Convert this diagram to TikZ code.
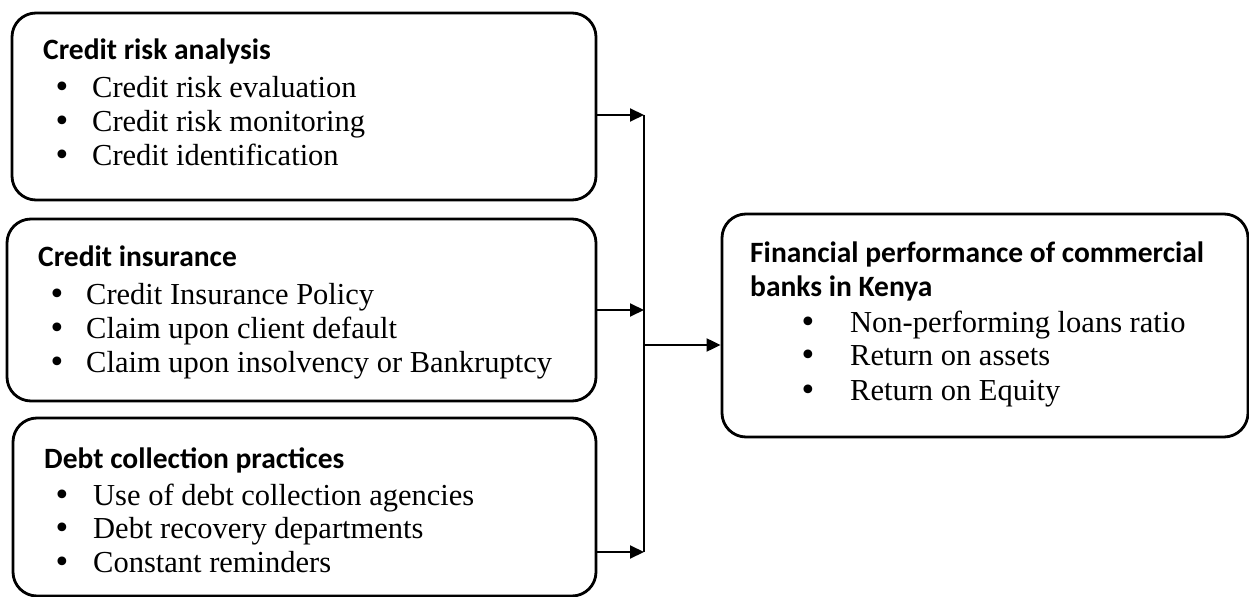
\documentclass[tikz,border=0pt]{standalone}
\usepackage{fontspec}
\setmainfont{Liberation Serif}
\newfontfamily\headfont{Carlito}
\newfontfamily\markfont{DejaVu Sans}
\usetikzlibrary{arrows.meta}

\tikzset{
  box/.style={draw, line width=2.8bp, rounded corners=24bp, inner sep=0pt},
  heading/.style={anchor=base west, inner sep=0pt,
    font=\headfont\bfseries\fontsize{29.5bp}{34bp}\selectfont},
  itemtext/.style={anchor=base west, inner sep=0pt,
    font=\fontsize{30.5bp}{34bp}\selectfont},
  bulletmark/.style={anchor=base, inner sep=0pt,
    font=\markfont\fontsize{30bp}{34bp}\selectfont},
  link/.style={line width=2bp, -{Triangle[length=14bp,width=13bp]}},
  trunk/.style={line width=2bp}
}

\begin{document}
\begin{tikzpicture}[x=1bp,y=-1bp]
\useasboundingbox (0,0) rectangle (1249,597);

% the three determinant boxes and the outcome box
\node[box, minimum width=584bp, minimum height=187bp] (b1) at (304,106.5) {};
\node[box, minimum width=589bp, minimum height=182bp] (b2) at (301.5,310) {};
\node[box, minimum width=583bp, minimum height=178bp] (b3) at (304.5,507) {};
\node[box, minimum width=526bp, minimum height=223bp] (r) at (985,325.5) {};

% credit risk analysis
\node[heading] (h1) at (43,60) {Credit risk analysis};
\node[bulletmark] (d11) at (62,98) {•};
\node[itemtext] (t11) at (92,98) {Credit risk evaluation};
\node[bulletmark] (d12) at (62,132) {•};
\node[itemtext] (t12) at (92,132) {Credit risk monitoring};
\node[bulletmark] (d13) at (62,166) {•};
\node[itemtext] (t13) at (92,166) {Credit identification};

% credit insurance
\node[heading] (h2) at (38,267) {Credit insurance};
\node[bulletmark] (d21) at (57,305) {•};
\node[itemtext] (t21) at (86,305) {Credit Insurance Policy};
\node[bulletmark] (d22) at (57,339) {•};
\node[itemtext] (t22) at (86,339) {Claim upon client default};
\node[bulletmark] (d23) at (57,373) {•};
\node[itemtext] (t23) at (86,373) {Claim upon insolvency or Bankruptcy};

% debt collection practices
\node[heading] (h3) at (44,468) {Debt collection practices};
\node[bulletmark] (d31) at (62,505) {•};
\node[itemtext] (t31) at (93,505) {Use of debt collection agencies};
\node[bulletmark] (d32) at (62,538) {•};
\node[itemtext] (t32) at (93,538) {Debt recovery departments};
\node[bulletmark] (d33) at (62,572) {•};
\node[itemtext] (t33) at (93,572) {Constant reminders};

% financial performance
\node[heading] (h4a) at (750,263) {Financial performance of commercial};
\node[heading] (h4b) at (750,297) {banks in Kenya};
\node[bulletmark] (d41) at (808,333) {•};
\node[itemtext] (t41) at (850,333) {Non-performing loans ratio};
\node[bulletmark] (d42) at (808,366) {•};
\node[itemtext] (t42) at (850,366) {Return on assets};
\node[bulletmark] (d43) at (808,400) {•};
\node[itemtext] (t43) at (850,400) {Return on Equity};

% junction points on the collecting line
\coordinate (j1) at (644,115);
\coordinate (j2) at (644,310);
\coordinate (j3) at (644,552);
\coordinate (jm) at (644,345);

\draw[link] (b1.east |- j1) -- (j1);
\draw[link] (b2.east |- j2) -- (j2);
\draw[link] (b3.east |- j3) -- (j3);
\draw[trunk] (j1) -- (j3);
\draw[link] (jm) -- (r.west |- jm);
\end{tikzpicture}
\end{document}
